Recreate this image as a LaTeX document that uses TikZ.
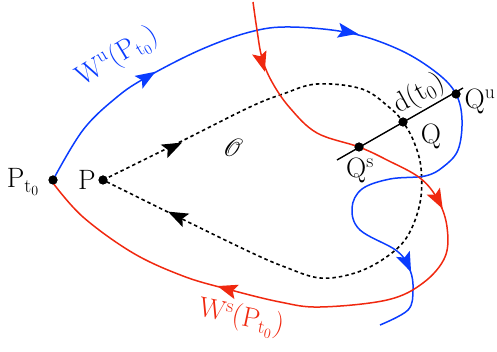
\RequirePackage{fix-cm}
\documentclass[tikz,border=0pt]{standalone}
\usepackage{mathrsfs}
\definecolor{wblue}{RGB}{10,60,255}
\definecolor{wred}{RGB}{240,40,15}
\tikzset{
  arrowhead/.pic={\fill (10,0) -- (-10,7.5) -- (-6,0) -- (-10,-7.5) -- cycle;},
  lab/.style={font=\fontsize{28}{32}\selectfont, inner sep=0pt},
  curveline/.style={line width=1.5pt},
  orbit/.style={line width=1.6pt, dash pattern=on 3.5pt off 3pt},
  pointdot/.style={circle, fill=black, inner sep=0pt, minimum size=9pt},
}
\begin{document}
\begin{tikzpicture}[x=1pt,y=-1pt]
\useasboundingbox (0,0) rectangle (497,352);
% points
\node[pointdot] (Pt) at (53,180) {};
\node[pointdot] (P) at (103,180) {};
\node[pointdot] (Qs) at (359,147) {};
\node[pointdot] (Q) at (403,122) {};
\node[pointdot] (Qu) at (456,94) {};
% orbit
\draw[orbit] plot[smooth, tension=0.6] coordinates {(103,180) (180,142) (250,107) (283,94) (317,84) (362,89) (390,108) (403,122) (414,142) (421,168) (420,203) (407,237) (385,258) (355,273) (320,278) (285,267) (250,252) (180,218) (103,180)};
% unstable manifold
\draw[wblue, curveline] plot[smooth, tension=0.6] coordinates {(53,180) (83,130) (117,97) (147,77) (200,50) (250,32) (290,27) (350,33) (400,50) (437,73) (456,94) (462,120) (458,150) (443,167) (425,176) (390,179) (362,189) (352,208) (360,230) (397,251) (410,270) (413,290) (408,310) (380,325)};
% stable manifold
\draw[wred, curveline] plot[smooth, tension=0.6] coordinates {(253,2) (257,30) (262,58) (272,82) (290,108) (317,133) (359,147) (387,160) (420,178) (438,200) (447,227) (445,257) (423,283) (387,300) (320,307) (280,302) (227,289) (183,276) (133,253) (83,217) (53,183)};
% segment
\coordinate (L1) at (337,160);
\coordinate (L2) at (463,88);
\draw[line width=1.4pt] (L1) -- (L2);
\node[pointdot] at (Qs) {};
\node[pointdot] at (Q) {};
\node[pointdot] at (Qu) {};
\node[pointdot] at (Pt) {};
\node[pointdot] at (P) {};
% arrowheads
\pic[wblue, rotate=32] at (147,77) {arrowhead};
\pic[wblue, rotate=-10] at (348,32) {arrowhead};
\pic[wblue, rotate=-66] at (407,263) {arrowhead};
\pic[wred, rotate=-74] at (262,62) {arrowhead};
\pic[wred, rotate=-62] at (438,200) {arrowhead};
\pic[wred, rotate=163] at (227,289) {arrowhead};
\pic[black, rotate=26] at (173,147) {arrowhead};
\pic[black, rotate=154] at (177,216) {arrowhead};
% labels
\node[lab] (lPt) at (23,182) {$\mathrm{P_{t_0}}$};
\node[lab] (lP) at (87,180) {$\mathrm{P}$};
\node[lab] (lQs) at (360,171) {$\mathrm{Q^s}$};
\node[lab] (lQ) at (431,137) {$\mathrm{Q}$};
\node[lab] (lQu) at (480,102) {$\mathrm{Q^u}$};
\node[lab, rotate=29] (ld) at (419,94) {$\mathrm{d(t_0)}$};
\node[lab] (lO) at (233,148) {$\mathscr{O}$};
\node[lab, wblue, rotate=31] (lWu) at (117,57) {$\mathrm{W^u(P_{t_0})}$};
\node[lab, wred, rotate=-12] (lWs) at (241,318) {$\mathrm{W^s(P_{t_0})}$};
\end{tikzpicture}
\end{document}
